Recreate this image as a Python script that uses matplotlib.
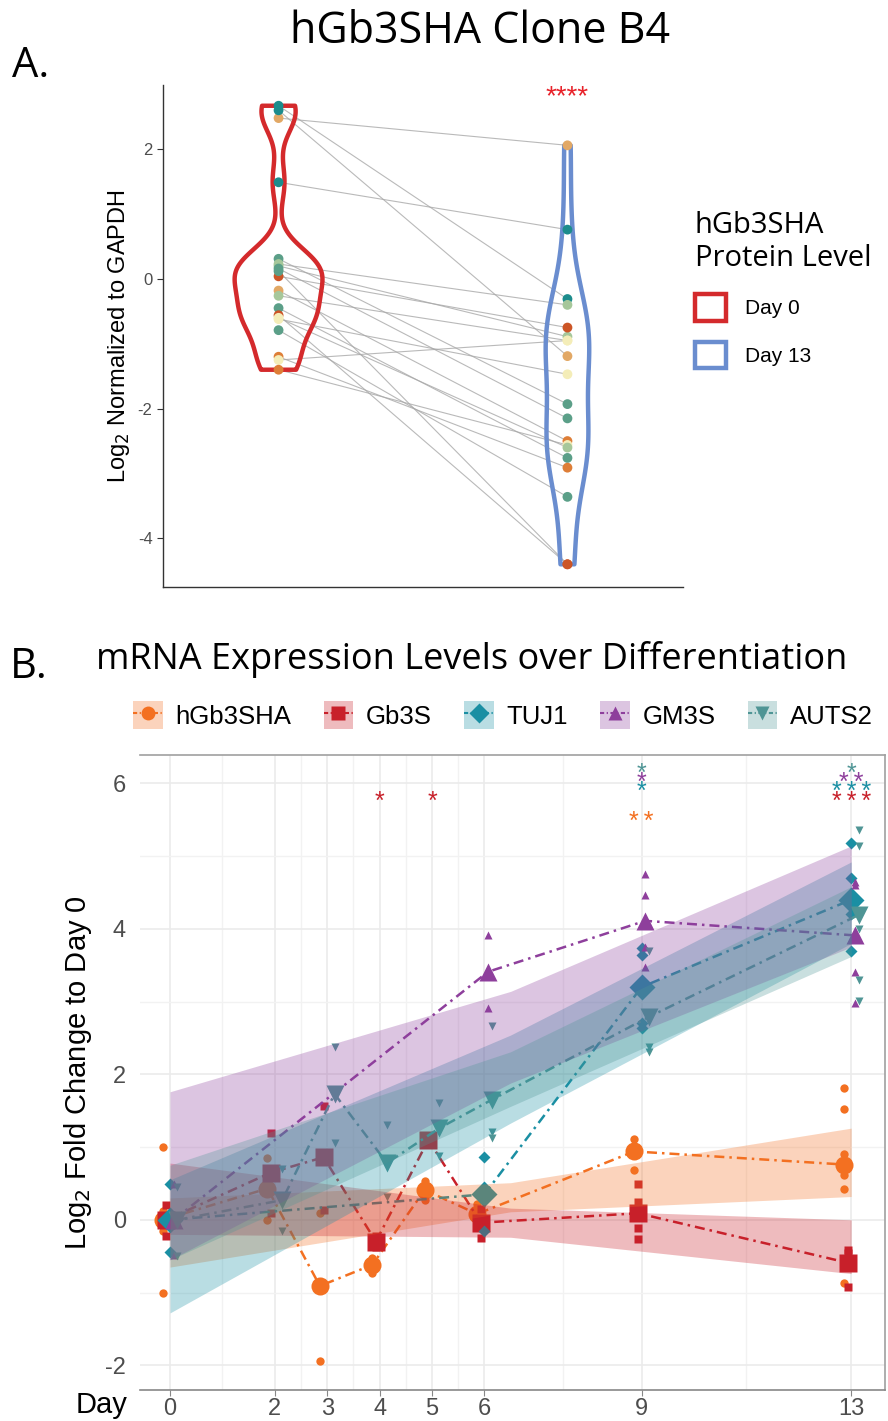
import numpy as np
import matplotlib.pyplot as plt
from matplotlib.patches import Patch
from matplotlib.lines import Line2D

plt.rcParams['font.family'] = ['Liberation Sans', 'DejaVu Sans']
plt.rcParams['axes.unicode_minus'] = False
TITLE_FONT = ['Open Sans', 'DejaVu Sans']

# ---------------- panel A: hGb3SHA protein, paired day 0 / day 13 ----------------
prot_day0 = [2.67, 2.48, 2.60, 1.49, 0.31, 0.23, 0.20, 0.16, 0.04, -0.18,
             -0.26, -0.45, -0.56, -0.62, -0.79, -1.20, -1.25, -1.40, 0.12, -0.60]
prot_day13 = [-0.31, 2.06, -1.19, 0.76, -1.93, -0.40, -0.89, -2.15, -0.75, -2.50,
              -0.95, -2.76, -4.40, -1.47, -3.36, -2.91, -0.95, -2.56, -4.40, -2.60]
prot_col0 = ['teal', 'tan', 'teal', 'teal', 'green', 'ltgreen', 'ltgreen', 'green', 'rust', 'tan',
             'ltgreen', 'green', 'rust', 'yellow', 'green', 'orange', 'yellow', 'orange', 'green', 'yellow']
prot_col13 = ['teal', 'tan', 'tan', 'teal', 'green', 'ltgreen', 'ltgreen', 'green', 'rust', 'orange',
              'yellow', 'green', 'rust', 'yellow', 'green', 'orange', 'yellow', 'yellow', 'rust', 'ltgreen']
sample_palette = {'teal': '#1C8C8C', 'tan': '#E2A865', 'green': '#5B9F88', 'ltgreen': '#A6C79A',
                  'yellow': '#F4EDB8', 'orange': '#DE7E37', 'rust': '#CC5526'}
prot_groups = ['Day 0', 'Day 13']
violin_colors = ['#D42A2C', '#6A8DCF']

# ---------------- panel B: mRNA levels over differentiation ----------------
genes = ['hGb3SHA', 'Gb3S', 'TUJ1', 'GM3S', 'AUTS2']
gene_colors = ['#F37021', '#C8202A', '#1A8FA3', '#8E3F9C', '#4F9595']
gene_markers = ['o', 's', 'D', '^', 'v']

hgb3sha_days = [0, 2, 3, 4, 5, 6, 9, 13]
hgb3sha_mean = [0.0, 0.43, -0.91, -0.62, 0.41, 0.08, 0.94, 0.76]
hgb3sha_reps = [[1.0, 0.12, 0.05, -0.05, -0.15, -1.0], [0.85, 0.0], [0.10, -1.94], [-0.52, -0.73],
                [0.54, 0.27], [0.22, -0.06], [1.11, 1.02, 0.69], [1.81, 1.52, 0.91, 0.61, 0.43, -0.87]]

gb3s_days = [0, 2, 3, 4, 5, 6, 9, 13]
gb3s_mean = [0.0, 0.65, 0.86, -0.30, 1.10, -0.04, 0.09, -0.59]
gb3s_reps = [[0.20, -0.22], [1.19, 0.10], [1.57, 0.14], [-0.22, -0.38], [1.15, 1.05],
             [0.15, -0.25], [0.49, 0.24, -0.11, -0.27], [-0.41, -0.45, -0.92]]

tuj1_days = [0, 6, 9, 13]
tuj1_mean = [0.0, 0.35, 3.20, 4.40]
tuj1_reps = [[0.49, -0.05, -0.44], [0.86, -0.16], [3.73, 3.64, 2.70, 2.63], [5.18, 4.70, 4.20, 3.70]]

gm3s_days = [0, 6, 9, 13]
gm3s_mean = [0.0, 3.41, 4.11, 3.91]
gm3s_reps = [[0.49, 0.0, -0.49], [3.91, 2.91], [4.75, 4.47, 3.75, 3.47], [4.65, 4.60, 3.40, 2.98]]

auts2_days = [0, 2, 3, 4, 5, 6, 9, 13]
auts2_mean = [0.0, 0.27, 1.73, 0.78, 1.26, 1.65, 2.79, 4.19]
auts2_reps = [[0.45, 0.05, -0.50], [0.70, -0.16], [2.37, 1.06], [1.30, 0.31], [1.61, 0.88],
              [2.66, 1.21, 1.12], [3.69, 2.38, 2.30], [5.36, 5.14, 4.00, 3.29, 3.01]]

# linear-fit confidence ribbons (lower / upper edge at band_days)
band_days = [0, 6.5, 13]
hgb3sha_band = ([-0.65, 0.11, 0.32], [0.30, 0.51, 1.26])
gb3s_band = ([-0.20, -0.24, -0.74], [0.78, 0.16, 0.00])
tuj1_band = ([-1.28, 1.33, 3.80], [0.55, 2.54, 4.92])
gm3s_band = ([-0.55, 1.88, 3.75], [1.76, 3.14, 5.14])
auts2_band = ([-0.55, 1.56, 3.62], [0.75, 2.31, 4.58])

# significance stars: day, height, text, gene index
star_days = [4, 5, 9, 9, 9, 9, 13, 13, 13, 13]
star_vals = [5.84, 5.84, 5.56, 5.98, 6.10, 6.23, 5.84, 5.98, 6.10, 6.23]
star_text = ['*', '*', '**', '*', '*', '*', '***', '***', '**', '*']
star_gene = [1, 1, 0, 2, 3, 4, 1, 2, 3, 4]

day_ticks = [0, 2, 3, 4, 5, 6, 9, 13]
day_minor = [1, 2.5, 3.5, 4.5, 5.5, 7.5, 11]


def nrd0(x):
    x = np.asarray(x)
    iqr = np.subtract(*np.percentile(x, [75, 25]))
    return 0.9 * min(np.std(x, ddof=1), iqr / 1.34) * len(x) ** -0.2


def kde(x, grid):
    x = np.asarray(x)
    bw = nrd0(x)
    z = (grid[:, None] - x[None, :]) / bw
    return np.exp(-0.5 * z ** 2).sum(axis=1) / (len(x) * bw * np.sqrt(2 * np.pi))


def stars(ax, x, y, text, color, size):
    # asterisks sit high in the em box, so drop the baseline to centre the glyph on y
    ax.annotate(text, (x, y), xytext=(0, -0.56 * size), textcoords='offset points',
                color=color, fontsize=size, ha='center', va='baseline', zorder=4)


W, H = 888, 1421
fig = plt.figure(figsize=(W / 100, H / 100), dpi=100)

# ================= panel A =================
axA = fig.add_axes([163 / W, 1 - 587 / H, (683 - 163) / W, (587 - 85) / H])

for a, b in zip(prot_day0, prot_day13):
    axA.plot([1, 2], [a, b], color='#A8A8A8', lw=0.8, alpha=0.8, zorder=1)

groups = [prot_day0, prot_day13]
dens = []
for vals in groups:
    g = np.linspace(min(vals), max(vals), 256)
    dens.append((g, kde(vals, g)))
scale = 0.152 / max(d.max() for _, d in dens)
for i, (g, d) in enumerate(dens):
    xs = np.concatenate([i + 1 - d * scale, (i + 1 + d * scale)[::-1]])
    ys = np.concatenate([g, g[::-1]])
    axA.fill(xs, ys, facecolor='none', edgecolor=violin_colors[i], lw=3.2, zorder=2,
             joinstyle='round')

axA.scatter(np.ones(len(prot_day0)), prot_day0, s=50, zorder=3,
            c=[sample_palette[c] for c in prot_col0], edgecolors='none')
axA.scatter(np.full(len(prot_day13), 2), prot_day13, s=50, zorder=3,
            c=[sample_palette[c] for c in prot_col13], edgecolors='none')

stars(axA, 2, 2.93, '****', '#E8222A', 20)

axA.set_xlim(0.6, 2.4)
axA.set_ylim(-4.75, 2.99)
axA.set_xticks([])
axA.set_yticks([-4, -2, 0, 2])
axA.tick_params(axis='y', labelsize=12, labelcolor='#4D4D4D', length=4, color='#333333')
for s in ['top', 'right']:
    axA.spines[s].set_visible(False)
for s in ['left', 'bottom']:
    axA.spines[s].set_color('#333333')
    axA.spines[s].set_linewidth(1.0)
axA.set_ylabel('Log$_2$ Normalized to GAPDH', fontsize=17, labelpad=4)

prot_handles = [Patch(facecolor='white', edgecolor=c, lw=3.2) for c in violin_colors]
legA = fig.legend(prot_handles, prot_groups, loc='upper left',
                  bbox_to_anchor=(676 / W, 1 - 192 / H), frameon=False, fontsize=15,
                  title='hGb3SHA\nProtein Level', alignment='left',
                  handlelength=1.5, handleheight=1.6, handletextpad=0.9, labelspacing=1.0)
legA.get_title().set_fontsize(21)
legA.get_title().set_family(TITLE_FONT)

fig.text(12 / W, 1 - 66 / H, 'A.', fontsize=30, family=TITLE_FONT, va='center')
fig.text(480 / W, 1 - 32 / H, 'hGb3SHA Clone B4', fontsize=31, family=TITLE_FONT,
         ha='center', va='center')

# ================= panel B =================
axB = fig.add_axes([140 / W, 1 - 1390 / H, (885 - 140) / W, (1390 - 755) / H])

series = [(hgb3sha_days, hgb3sha_mean, hgb3sha_reps, hgb3sha_band),
          (gb3s_days, gb3s_mean, gb3s_reps, gb3s_band),
          (tuj1_days, tuj1_mean, tuj1_reps, tuj1_band),
          (gm3s_days, gm3s_mean, gm3s_reps, gm3s_band),
          (auts2_days, auts2_mean, auts2_reps, auts2_band)]
offsets = [-0.14, -0.07, 0.0, 0.07, 0.14]
dashdot = (0, (4, 2, 1, 2))

for k, (days, mean, reps, band) in enumerate(series):
    col = gene_colors[k]
    mk = gene_markers[k]
    xd = np.array(days) + offsets[k]
    for x, r in zip(xd, reps):
        axB.plot(np.full(len(r), x), r, ls='none', marker=mk, ms=6, color=col, mec='none', zorder=2)
    axB.plot(xd, mean, ls=dashdot, lw=1.8, color=col, marker=mk, ms=13, mec='none', zorder=2)
    lo, hi = band
    axB.fill_between(band_days, lo, hi, color=col, alpha=0.3, lw=0, zorder=3)

for d, v, t, gi in zip(star_days, star_vals, star_text, star_gene):
    stars(axB, d, v, '\u2009'.join(t), gene_colors[gi], 18)

axB.set_xlim(-0.573, 13.645)
axB.set_ylim(-2.34, 6.39)
axB.set_xticks(day_ticks)
axB.set_xticks(day_minor, minor=True)
axB.set_yticks([-2, 0, 2, 4, 6])
axB.set_yticks([-1, 1, 3, 5], minor=True)
axB.grid(True, which='major', color='#EBEBEB', lw=1.2, zorder=0)
axB.grid(True, which='minor', color='#F2F2F2', lw=1.0, zorder=0)
axB.set_axisbelow(True)
axB.tick_params(axis='x', which='major', labelsize=17, labelcolor='#4D4D4D', length=4,
                color='#888888', pad=2)
axB.tick_params(axis='y', which='major', labelsize=17, labelcolor='#4D4D4D', length=0, pad=10)
axB.tick_params(which='minor', length=0)
axB.spines['left'].set_visible(False)
for s in ['top', 'right']:
    axB.spines[s].set_color('#A0A0A0')
    axB.spines[s].set_linewidth(1.2)
axB.spines['bottom'].set_color('#888888')
axB.spines['bottom'].set_linewidth(1.2)
axB.set_ylabel('Log$_2$ Fold Change to Day 0', fontsize=21, labelpad=8)

gene_handles = []
for k in range(len(genes)):
    patch = Patch(facecolor=gene_colors[k], alpha=0.3, edgecolor='none')
    line = Line2D([], [], color=gene_colors[k], ls=(0, (2, 1.2, 0.6, 1.2)), lw=1.5,
                  marker=gene_markers[k], ms=10, mec='none')
    gene_handles.append((patch, line))
fig.legend(gene_handles, genes, ncol=5, loc='center', bbox_to_anchor=(503 / W, 1 - 715 / H),
           frameon=False, fontsize=18.5, handlelength=1.15, handleheight=1.25,
           columnspacing=1.25, handletextpad=0.5, numpoints=1)

fig.text(10 / W, 1 - 667 / H, 'B.', fontsize=30, family=TITLE_FONT, va='center')
fig.text(472 / W, 1 - 660 / H, 'mRNA Expression Levels over Differentiation', fontsize=26,
         family=TITLE_FONT, ha='center', va='center')
fig.text(102 / W, 1 - 1405 / H, 'Day', fontsize=21, ha='center', va='center')

fig.savefig('out.png', dpi=100, facecolor='white')
